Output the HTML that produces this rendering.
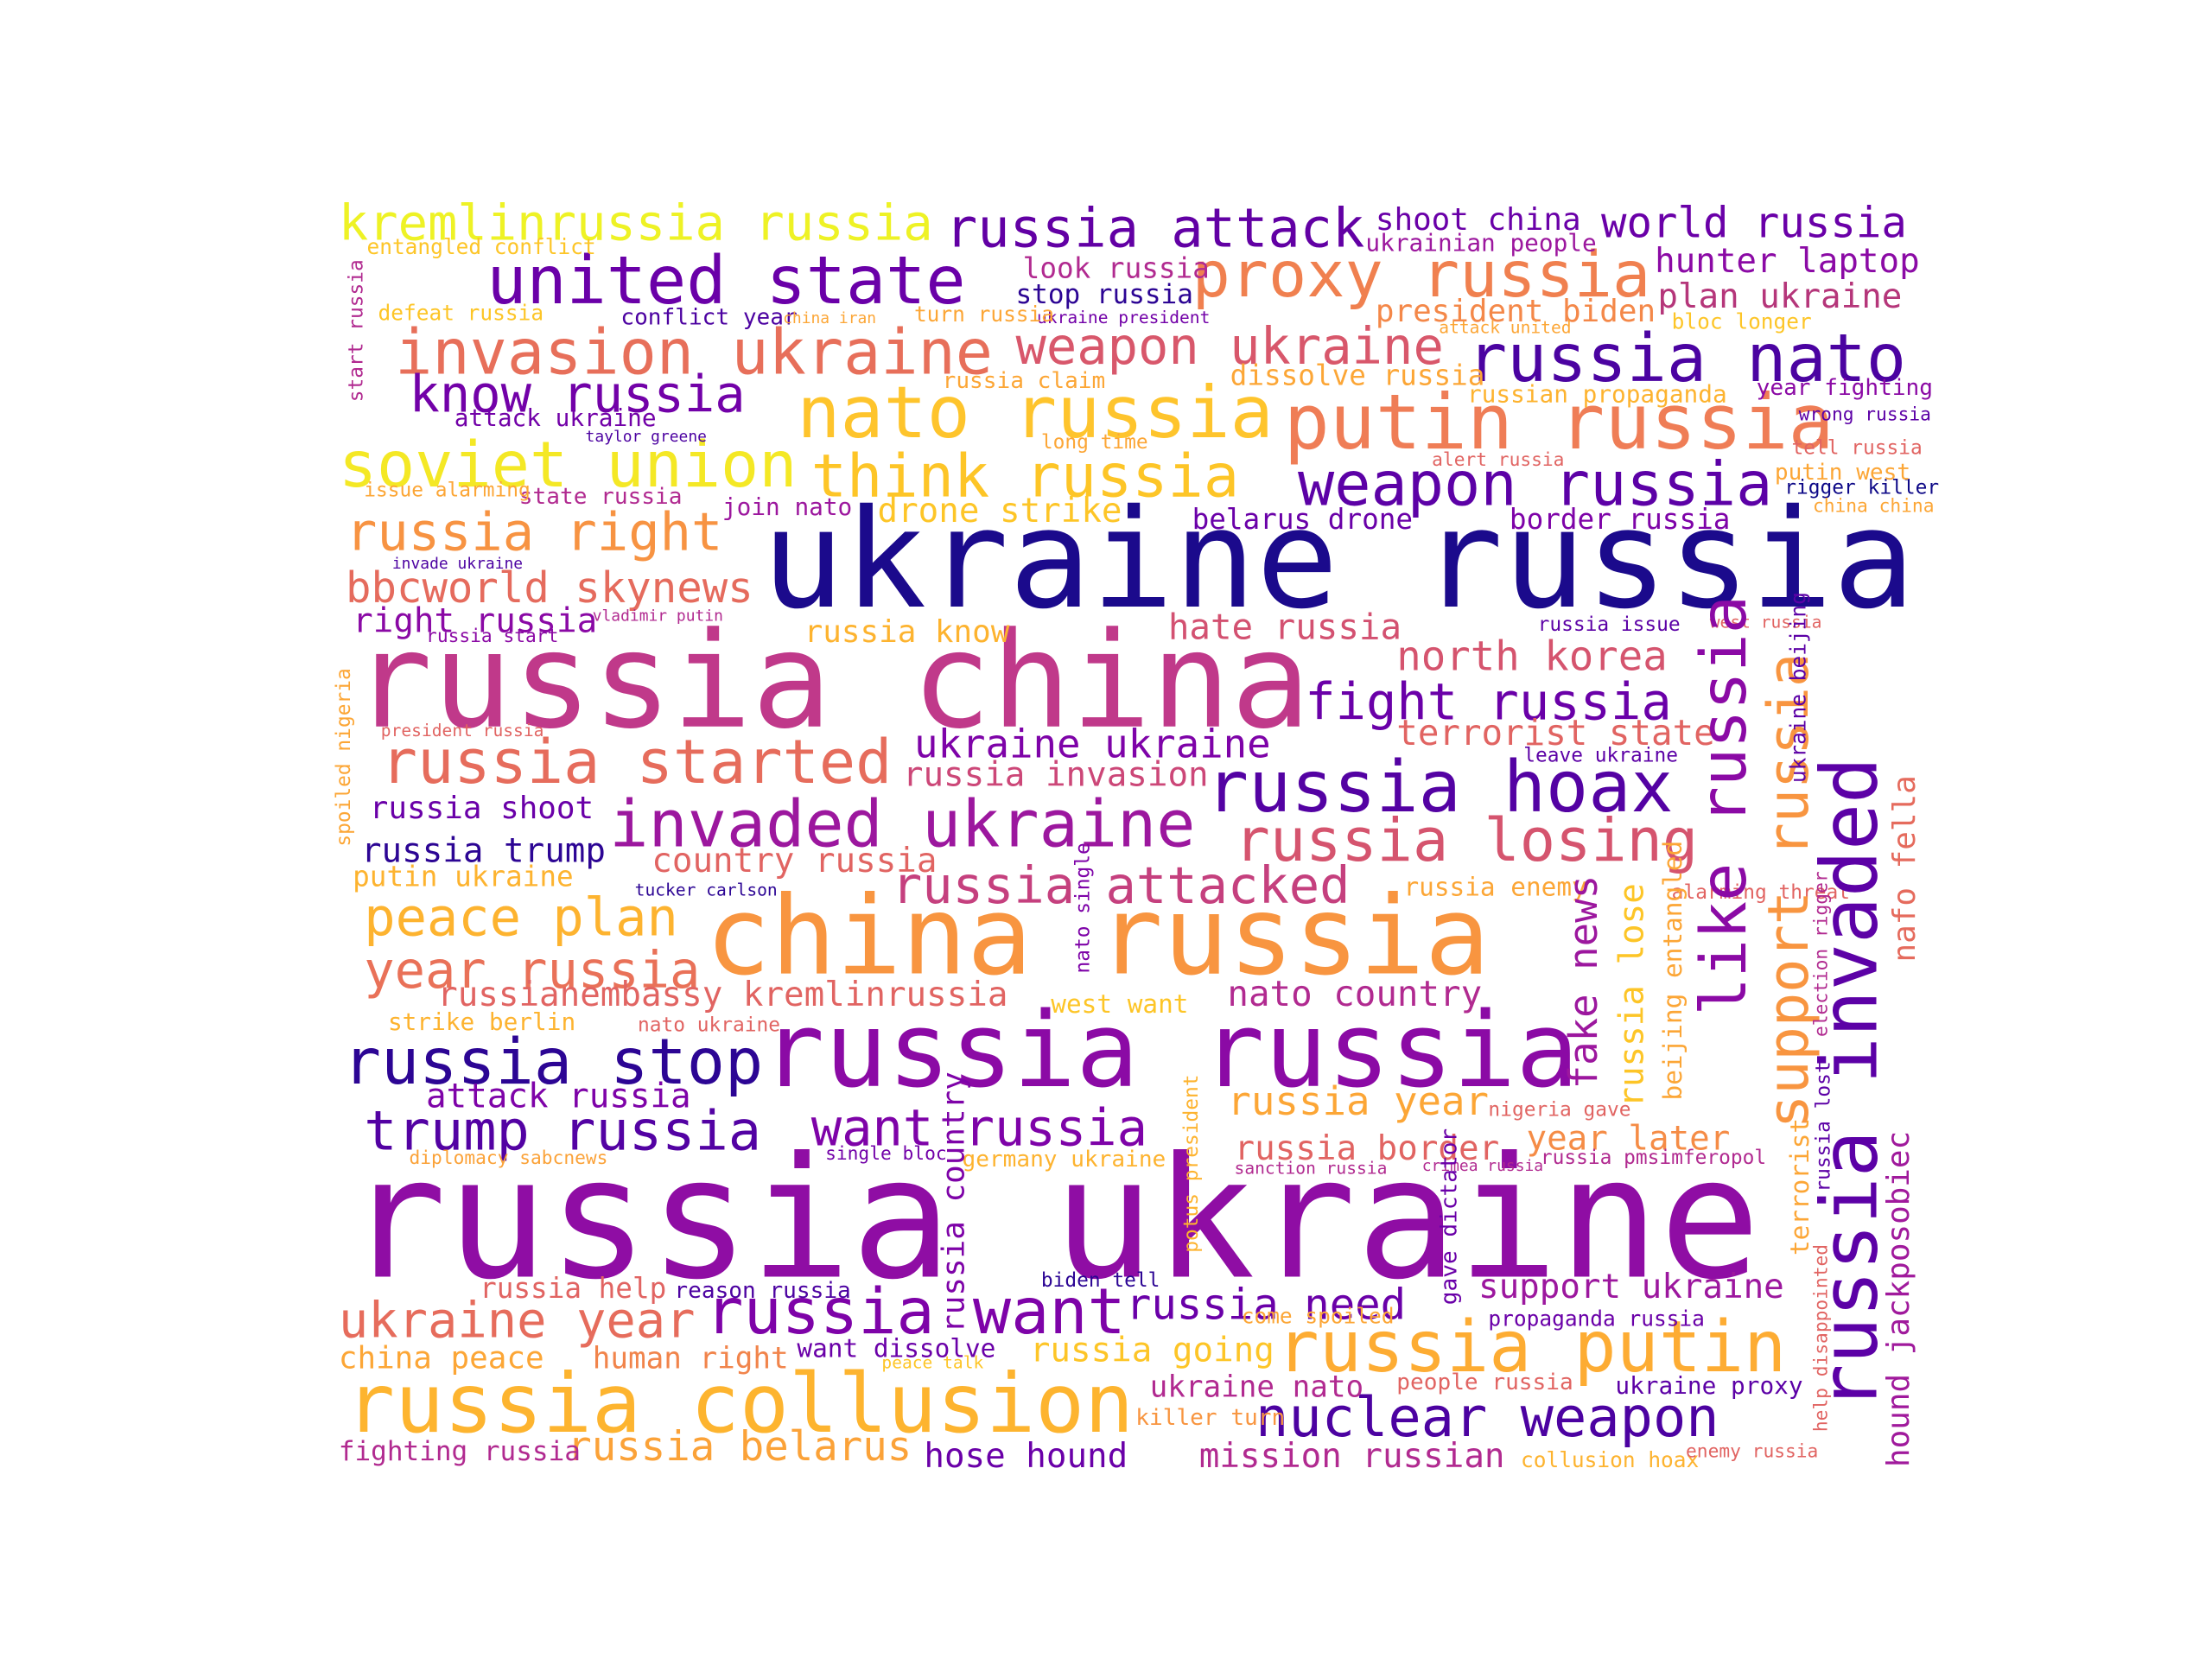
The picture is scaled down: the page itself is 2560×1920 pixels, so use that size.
<!DOCTYPE html>
<html>
<head>
<meta charset="utf-8">
<style>
html,body{margin:0;padding:0;background:#fff;}
#wrap{width:2560px;height:1920px;position:relative;overflow:hidden;background:#fff;}
svg{display:block;}
text{font-family:"DejaVu Sans Mono","Liberation Mono",monospace;}
</style>
</head>
<body>
<div id="wrap">
<svg id="cloud" width="2560" height="1920" viewBox="0 0 1568 1176"></svg>
</div>
<script>
// words: text, left x, baseline y, font size, color, vertical(1)
const words = [
["ukraine russia",540,430,97,"#1b0a8c",0],
["russia ukraine",245,905,119,"#8f0da4",0],
["russia china",250,515,94,"#c0398a",0],
["china russia",500,690,77,"#f89540",0],
["russia russia",540,770,74,"#8b0aa5",0],
["russia collusion",245,1015,58,"#fdb42f",0],
["united state",345,215,47,"#6a00a8",0],
["invasion ukraine",280,265,44,"#e76f5a",0],
["proxy russia",845,210,45,"#f0804f",0],
["putin russia",910,318,54,"#ef7d56",0],
["nato russia",565,310,51,"#fec42c",0],
["soviet union",240,345,45,"#f4e825",0],
["think russia",575,352,42,"#fdc527",0],
["russia nato",1040,270,47,"#4b03a1",0],
["weapon russia",920,358,43,"#5c01a6",0],
["kremlinrussia russia",240,170,35,"#eef225",0],
["russia attack",670,175,38,"#6200a4",0],
["weapon ukraine",720,258,36,"#d8576b",0],
["know russia",290,292,36,"#7201a8",0],
["russia right",245,390,37,"#f79342",0],
["bbcworld skynews",245,427,30,"#e56b5d",0],
["right russia",250,448,24,"#8a09a5",0],
["russia started",270,555,43,"#e66c5c",0],
["invaded ukraine",432,600,46,"#9c179e",0],
["russia hoax",855,575,50,"#5402a3",0],
["russia losing",875,610,42,"#d5546e",0],
["fight russia",925,510,36,"#6a00a8",0],
["north korea",990,475,29,"#d5546e",0],
["russia attacked",632,640,36,"#c5407e",0],
["peace plan",258,663,37,"#fdb32f",0],
["year russia",258,700,36,"#e97158",0],
["russia stop",243,768,45,"#2c0594",0],
["trump russia",258,815,39,"#5302a3",0],
["want russia",575,812,36,"#7e03a8",0],
["russia want",500,945,45,"#7e03a8",0],
["ukraine year",240,948,35,"#e66c5c",0],
["russia putin",905,972,50,"#fdac33",0],
["nuclear weapon",890,1018,39,"#4c02a1",0],
["russia belarus",402,1035,29,"#fba238",0],
["russia need",798,935,30,"#6a00a8",0],
["support ukraine",1048,920,24,"#9c179e",0],
["shoot china",975,163,22,"#6a00a8",0],
["world russia",1135,168,30,"#6a00a8",0],
["hunter laptop",1173,193,24,"#8b0aa5",0],
["plan ukraine",1175,218,24,"#b5367a",0],
["president biden",975,228,22,"#f48849",0],
["dissolve russia",872,273,20,"#fca636",0],
["russian propaganda",1040,285,17,"#fdb32f",0],
["drone strike",622,370,24,"#fdc527",0],
["belarus drone",845,375,20,"#6a00a8",0],
["border russia",1070,375,20,"#7e03a8",0],
["hate russia",828,453,25,"#d35171",0],
["russia know",570,455,22,"#fdb32f",0],
["ukraine ukraine",648,537,28,"#7e03a8",0],
["russia invasion",640,557,24,"#cc4778",0],
["terrorist state",990,528,25,"#e16462",0],
["country russia",462,618,24,"#e16462",0],
["russia trump",256,611,24,"#2c0594",0],
["putin ukraine",250,628,20,"#fdb32f",0],
["russia shoot",262,580,22,"#6a00a8",0],
["russianembassy kremlinrussia",310,713,24,"#e16462",0],
["attack russia",302,785,24,"#7e03a8",0],
["nato country",870,713,25,"#b12a90",0],
["russia year",870,790,28,"#fca636",0],
["russia border",875,822,24,"#e16462",0],
["year later",1082,815,24,"#f58c46",0],
["russia help",340,920,20,"#e16462",0],
["reason russia",478,920,16,"#4c02a1",0],
["want dissolve",565,962,18,"#6a00a8",0],
["china peace",240,970,22,"#fca636",0],
["human right",420,970,21,"#f1844b",0],
["russia going",730,965,24,"#fdc527",0],
["ukraine nato",815,990,21,"#b12a90",0],
["hose hound",655,1040,24,"#6a00a8",0],
["mission russian",850,1040,24,"#b12a90",0],
["fighting russia",240,1035,19,"#b12a90",0],
["collusion hoax",1078,1040,15,"#fdb32f",0],
["killer turn",805,1010,16,"#f89540",0],
["people russia",990,985,16,"#e16462",0],
["ukraine proxy",1145,988,17,"#5c01a6",0],
["propaganda russia",1055,940,15,"#6a00a8",0],
["strike berlin",275,730,17,"#fdb32f",0],
["west want",745,718,18,"#fdc527",0],
["diplomacy sabcnews",290,825,13,"#fba238",0],
["single bloc",585,822,13,"#7201a8",0],
["germany ukraine",682,827,16,"#fdb32f",0],
["sanction russia",875,832,12,"#b12a90",0],
["look russia",725,197,20,"#b12a90",0],
["stop russia",720,215,19,"#2c0594",0],
["conflict year",440,230,16,"#4c02a1",0],
["entangled conflict",260,180,15,"#fdc527",0],
["ukrainian people",968,178,17,"#9c179e",0],
["defeat russia",268,227,15,"#fdc527",0],
["attack ukraine",322,302,17,"#7201a8",0],
["state russia",368,357,16,"#b12a90",0],
["issue alarming",258,352,14,"#fca636",0],
["join nato",512,365,17,"#9c179e",0],
["long time",738,318,14,"#fca636",0],
["russia claim",668,275,16,"#fca636",0],
["tucker carlson",450,635,12,"#2c0594",0],
["russia issue",1090,447,14,"#5c01a6",0],
["west russia",1212,445,12,"#e16462",0],
["rigger killer",1265,350,14,"#0d0887",0],
["tell russia",1270,322,14,"#e16462",0],
["putin west",1258,340,16,"#fca636",0],
["year fighting",1245,280,16,"#8b0aa5",0],
["wrong russia",1275,298,13,"#5c01a6",0],
["leave ukraine",1080,540,14,"#5c01a6",0],
["alarming threat",1185,637,14,"#e16462",0],
["russia enemy",995,635,18,"#fca636",0],
["nigeria gave",1055,791,14,"#e16462",0],
["russia pmsimferopol",1092,825,14,"#b12a90",0],
["nato ukraine",452,731,14,"#e16462",0],
["bloc longer",1185,233,15,"#fdc527",0],
["alert russia",1015,330,13,"#e16462",0],
["come spoiled",880,938,15,"#fca636",0],
["biden tell",738,912,14,"#2c0594",0],
["crimea russia",1008,830,11,"#b12a90",0],
["china china",1285,363,13,"#fca636",0],
["attack united",1020,236,12,"#fca636",0],
["ukraine president",735,229,12,"#7201a8",0],
["china iran",555,229,11,"#fca636",0],
["turn russia",648,228,15,"#fca636",0],
["taylor greene",415,313,11,"#4c02a1",0],
["invade ukraine",278,403,11,"#4c02a1",0],
["vladimir putin",420,440,11,"#b12a90",0],
["russia start",302,455,13,"#8b0aa5",0],
["president russia",270,522,12,"#e16462",0],
["peace talk",625,970,12,"#fdc527",0],
["enemy russia",1195,1033,13,"#e16462",0],
["hostage russia",0,0,0,"#ffffff",0],
["support russia",1290,800,40,"#f89540",1],
["like russia",1247,720,45,"#8b0aa5",1],
["russia invaded",1342,1000,55,"#5c01a6",1],
["fake news",1138,772,28,"#9c179e",1],
["russia lose",1170,785,24,"#fdc527",1],
["hound jackposobiec",1358,1040,22,"#a01a9c",1],
["nafo fella",1362,682,22,"#e56b5d",1],
["russia country",688,945,22,"#7e03a8",1],
["beijing entangled",1196,780,18,"#fca636",1],
["terrorist",1286,890,18,"#fca636",1],
["russia lost",1300,845,14,"#5c01a6",1],
["gave dictator",1036,925,16,"#6a00a8",1],
["spoiled nigeria",251,600,14,"#fca636",1],
["start russia",260,285,14,"#b12a90",1],
["nato single",775,690,14,"#7e03a8",1],
["potus president",852,888,14,"#fdb32f",1],
["ukraine beijing",1283,555,15,"#5c01a6",1],
["election rigger",1298,735,13,"#b12a90",1],
["help disappointed",1298,1015,13,"#e16462",1]
];
const svg = document.getElementById('cloud');
const NS = 'http://www.w3.org/2000/svg';
words.forEach(function(w){
  if (!w[3]) return;
  const t = document.createElementNS(NS,'text');
  t.textContent = w[0];
  t.setAttribute('font-size', w[3]);
  t.setAttribute('fill', w[4]);
  if (w[5]) {
    t.setAttribute('transform', 'translate(' + (w[1] - w[3]*0.22) + ',' + w[2] + ') rotate(-90)');
  } else {
    t.setAttribute('x', w[1]);
    t.setAttribute('y', w[2]);
  }
  
  
  svg.appendChild(t);
});
</script>
</body>
</html>
